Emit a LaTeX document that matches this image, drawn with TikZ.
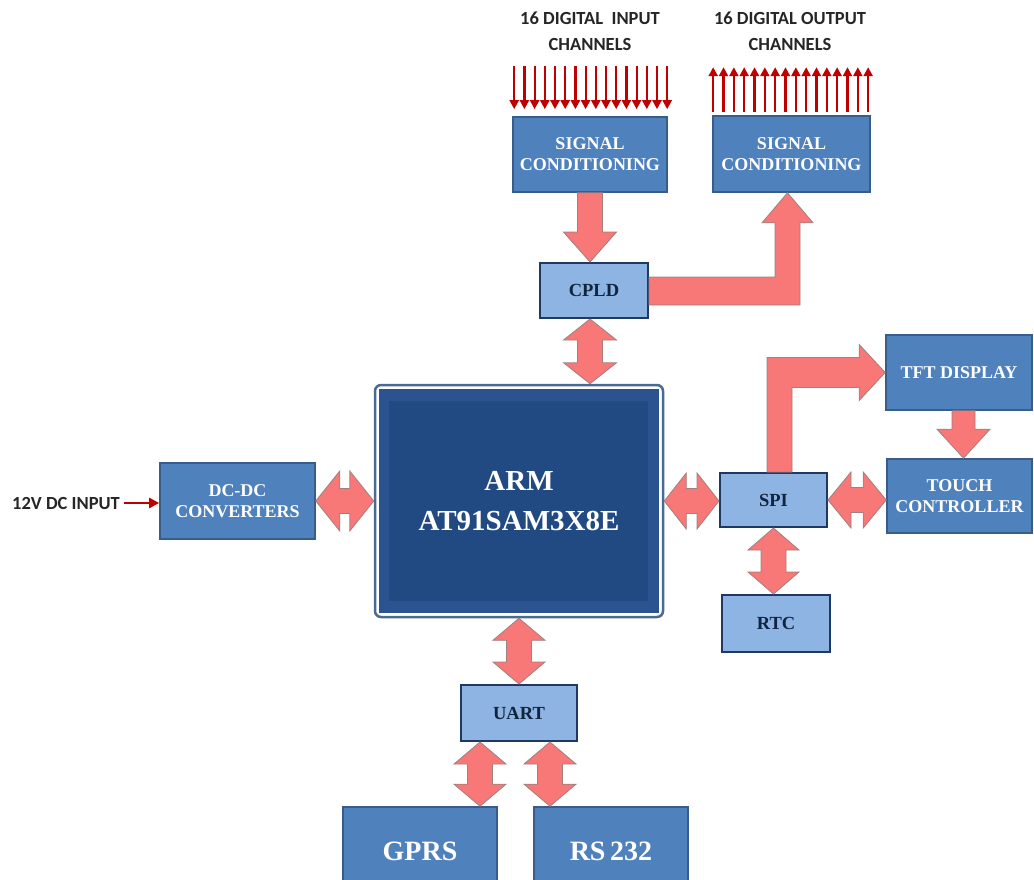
\documentclass[tikz,border=0pt]{standalone}
\usepackage{fontspec}
\setmainfont{Liberation Serif}
\newfontfamily\hdrfont{Carlito}
\usetikzlibrary{calc,arrows.meta}
\definecolor{boxblue}{HTML}{4F81BD}
\definecolor{bordblue}{HTML}{385D8A}
\definecolor{lightblue}{HTML}{8EB4E3}
\definecolor{navyline}{HTML}{1F3864}
\definecolor{textnavy}{HTML}{10243E}
\definecolor{arrowred}{HTML}{F87777}
\definecolor{arrowedge}{HTML}{A08080}
\definecolor{chanred}{HTML}{C00000}
\definecolor{armframe}{HTML}{4A6A96}
\definecolor{armouterfill}{HTML}{2B5390}
\definecolor{arminner}{HTML}{214A82}
\definecolor{hdrgray}{HTML}{262626}
\tikzset{
  darkbox/.style={draw=bordblue, line width=1.6pt, fill=boxblue, text=white,
    font=\bfseries\fontsize{18}{21}\selectfont, align=center, inner sep=0pt},
  lightbox/.style={draw=navyline, line width=2pt, fill=lightblue, text=textnavy,
    font=\bfseries\fontsize{18.5}{20}\selectfont, align=center, inner sep=0pt},
  barrow/.style={fill=arrowred, draw=arrowedge, line width=0.8pt, line join=miter},
  chan/.style={draw=chanred, line width=2.2pt, -{Triangle[length=9pt,width=9pt]}},
  hdr/.style={font=\hdrfont\bfseries\fontsize{18.5}{26}\selectfont, text=hdrgray, align=center, inner sep=0pt},
}
% vertical double arrow: top point, bottom point, shaft half, head half, head length
\newcommand\vdblarr[5]{\draw[barrow] let \p1=(#1), \p2=(#2) in
  (\x1,\y1) -- (\x1+#4,\y1-#5) -- (\x1+#3,\y1-#5) -- (\x1+#3,\y2+#5) -- (\x1+#4,\y2+#5)
  -- (\x1,\y2) -- (\x1-#4,\y2+#5) -- (\x1-#3,\y2+#5) -- (\x1-#3,\y1-#5) -- (\x1-#4,\y1-#5) -- cycle;}
% horizontal double arrow: left point, right point, shaft half, head half, head length
\newcommand\hdblarr[5]{\draw[barrow] let \p1=(#1), \p2=(#2) in
  (\x1,\y1) -- (\x1+#5,\y1+#4) -- (\x1+#5,\y1+#3) -- (\x2-#5,\y1+#3) -- (\x2-#5,\y1+#4)
  -- (\x2,\y1) -- (\x2-#5,\y1-#4) -- (\x2-#5,\y1-#3) -- (\x1+#5,\y1-#3) -- (\x1+#5,\y1-#4) -- cycle;}
% vertical single arrow downward: top point, tip point, shaft half, head half, head length
\newcommand\vdownarr[5]{\draw[barrow] let \p1=(#1), \p2=(#2) in
  (\x1-#3,\y1) -- (\x1-#3,\y2+#5) -- (\x1-#4,\y2+#5) -- (\x1,\y2) -- (\x1+#4,\y2+#5)
  -- (\x1+#3,\y2+#5) -- (\x1+#3,\y1) -- cycle;}
\begin{document}
\begin{tikzpicture}[x=1pt,y=-1pt]
\clip (0,0) rectangle (1034,879);
\fill[white] (0,0) rectangle (1034,879);

% headers
\node[hdr] (hin) at (590,31) {16 DIGITAL\ \ INPUT\\CHANNELS};
\node[hdr] (hout) at (790,31) {16 DIGITAL OUTPUT\\CHANNELS};

% boxes
\node[darkbox, minimum width=154pt, minimum height=75pt] (sci) at (590,154.5) {SIGNAL\\CONDITIONING};
\node[darkbox, minimum width=157pt, minimum height=76pt] (sco) at (791.5,154) {SIGNAL\\CONDITIONING};
\node[lightbox, minimum width=108pt, minimum height=55pt] (cpld) at (594,290.5) {CPLD};
\node[darkbox, minimum width=155pt, minimum height=76pt] (dcdc) at (237.5,501) {DC-DC\\CONVERTERS};
\node[lightbox, minimum width=107pt, minimum height=54pt] (spi) at (773.5,500) {SPI};
\node[darkbox, minimum width=145pt, minimum height=74pt] (touch) at (959.5,496) {TOUCH\\CONTROLLER};
\node[darkbox, minimum width=146pt, minimum height=75pt] (tft) at (959,372.5) {TFT DISPLAY};
\node[lightbox, minimum width=108pt, minimum height=57pt] (rtc) at (776,623.5) {RTC};
\node[lightbox, minimum width=116pt, minimum height=56pt] (uart) at (519,713) {UART};
\node[darkbox, minimum width=154pt, minimum height=88pt, font=\bfseries\fontsize{28}{30}\selectfont] (gprs) at (420,851) {GPRS};
\node[darkbox, minimum width=154pt, minimum height=88pt, font=\bfseries\fontsize{28}{30}\selectfont] (rs) at (611,851) {RS\,232};

% ARM block
\node[draw=armframe, line width=2.5pt, fill=white, rounded corners=6pt,
      minimum width=288pt, minimum height=232pt, inner sep=0pt] (arm) at (519,501) {};
\fill[armouterfill] ($(arm.north west)+(5,5)$) rectangle ($(arm.south east)+(-5,-5)$);
\fill[arminner] ($(arm.north west)+(15,17)$) rectangle ($(arm.south east)+(-16,-17)$);
\node[text=white, font=\bfseries\fontsize{29}{40}\selectfont, align=center] (armtxt) at (arm.center) {ARM\\AT91SAM3X8E};

% channel arrows
\foreach \i in {0,...,15} {
  \draw[chan] ($(sci.north west)+(2+\i*10.2,-50)$) -- ($(sci.north west)+(2+\i*10.2,-7)$);
  \draw[chan] ($(sco.north west)+(1+\i*10.33,-3)$) -- ($(sco.north west)+(1+\i*10.33,-48)$);
}

% 12V input
\node[hdr, anchor=west] (vin) at (12,503) {12V DC INPUT};
\draw[chan, line width=2.6pt, -{Triangle[length=10pt,width=10pt]}] ([xshift=4pt]vin.east) -- (dcdc.west |- vin.east);

% block arrows
\vdownarr{sci.south}{cpld.north -| sci.south}{12.5pt}{26.5pt}{30pt}
\draw[barrow] let \p1=(cpld.east), \p2=(sco.south) in
  (\x1,\y1+13.5pt) -- (\x2-16.5pt,\y1+13.5pt) -- (\x2-16.5pt,\y2-30pt) -- (\x2-29.5pt,\y2-30pt)
  -- (\x2-4pt,\y2) -- (\x2+21.5pt,\y2-30pt) -- (\x2+8.5pt,\y2-30pt) -- (\x2+8.5pt,\y1-14.5pt)
  -- (\x1,\y1-14.5pt) -- cycle;
\vdblarr{cpld.south -| sci.south}{arm.north -| sci.south}{12.5pt}{26.5pt}{21pt}
\hdblarr{dcdc.east}{arm.west}{12.5pt}{30pt}{24pt}
\hdblarr{arm.east}{spi.west}{12.5pt}{28pt}{22pt}
\hdblarr{spi.east}{touch.west}{12.5pt}{28pt}{23pt}
\vdblarr{spi.south}{spi.south |- rtc.north}{12.5pt}{25.5pt}{22pt}
\draw[barrow] let \p1=(spi.north), \p2=(tft.west) in
  (\x1-6.5pt,\y1) -- (\x1-6.5pt,\y2+15pt) -- (\x2-26pt,\y2+15pt) -- (\x2-26pt,\y2+28pt)
  -- (\x2,\y2) -- (\x2-26pt,\y2-28pt) -- (\x2-26pt,\y2-15pt) -- (\x1+18.5pt,\y2-15pt)
  -- (\x1+18.5pt,\y1) -- cycle;
\coordinate (tftc) at ($(tft.south)+(4.5,0)$);
\vdownarr{tftc}{tftc |- touch.north}{11.5pt}{26.5pt}{29pt}
\vdblarr{arm.south}{uart.north}{12.5pt}{26pt}{22pt}
\coordinate (ug) at ($(uart.south)+(-39,0)$);
\coordinate (ur) at ($(uart.south)+(31,0)$);
\vdblarr{ug}{ug |- gprs.north}{12.5pt}{26pt}{22pt}
\vdblarr{ur}{ur |- rs.north}{12.5pt}{26pt}{22pt}
\end{tikzpicture}
\end{document}
